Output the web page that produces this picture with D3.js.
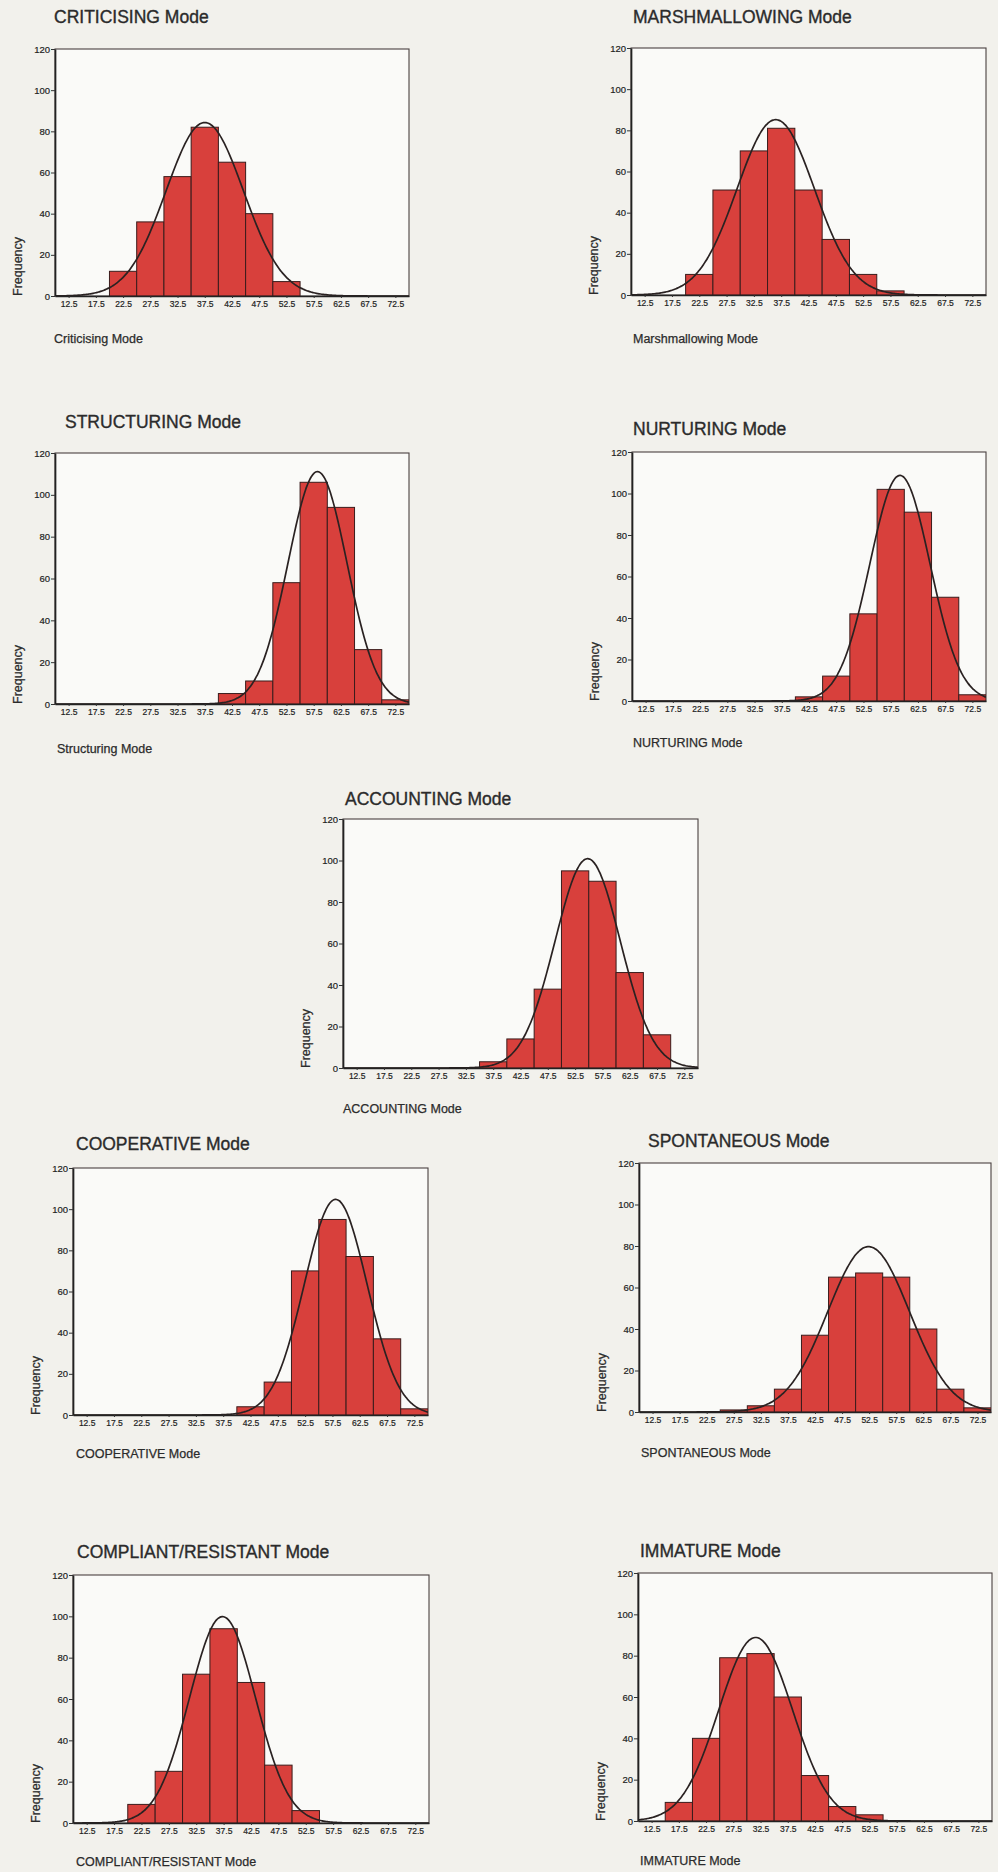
<!DOCTYPE html>
<html lang="en">
<head>
  <meta charset="UTF-8" />
  <title>Mode histograms</title>
  <script src="https://cdn.jsdelivr.net/npm/d3@7"></script>
  <style>
    body { margin: 0; background: #f2f1ec; }
    svg { display: block; font-family: "Liberation Sans", Arial, sans-serif; }
    .title { font-size: 17.5px; fill: #2b2b2b; stroke: #2b2b2b; stroke-width: 0.35px; }
    .axis-title { font-size: 12.5px; fill: #2b2b2b; stroke: #2b2b2b; stroke-width: 0.25px; }
    .tick text { fill: #1e1e1e; stroke: #1e1e1e; stroke-width: 0.2px; }
    .bar { fill: #d8403c; stroke: #3a1c1c; stroke-width: 1; }
    .curve { fill: none; stroke: #2a2222; stroke-width: 1.7; }
  </style>
</head>
<body>
<script>
  // bin midpoints (bin width 5)
  const binCenters = [12.5, 17.5, 22.5, 27.5, 32.5, 37.5, 42.5, 47.5, 52.5, 57.5, 62.5, 67.5, 72.5];
  const yTicks = [0, 20, 40, 60, 80, 100, 120];

  const titles = ["CRITICISING Mode", "MARSHMALLOWING Mode", "STRUCTURING Mode", "NURTURING Mode",
    "ACCOUNTING Mode", "COOPERATIVE Mode", "SPONTANEOUS Mode", "COMPLIANT/RESISTANT Mode", "IMMATURE Mode"];
  const axisTitles = ["Criticising Mode", "Marshmallowing Mode", "Structuring Mode", "NURTURING Mode",
    "ACCOUNTING Mode", "COOPERATIVE Mode", "SPONTANEOUS Mode", "COMPLIANT/RESISTANT Mode", "IMMATURE Mode"];

  // frequencies per bin
  const criticising    = [0, 0, 12, 36, 58, 82, 65, 40, 7, 0, 0, 0, 0];
  const marshmallowing = [0, 0, 10, 51, 70, 81, 51, 27, 10, 2, 0, 0, 0];
  const structuring    = [0, 0, 0, 0, 0, 0, 5, 11, 58, 106, 94, 26, 2];
  const nurturing      = [0, 0, 0, 0, 0, 0, 2, 12, 42, 102, 91, 50, 3];
  const accounting     = [0, 0, 0, 0, 0, 3, 14, 38, 95, 90, 46, 16, 0];
  const cooperative    = [0, 0, 0, 0, 0, 0, 4, 16, 70, 95, 77, 37, 3];
  const spontaneous    = [0, 0, 0, 1, 3, 11, 37, 65, 67, 65, 40, 11, 2];
  const compliant      = [0, 0, 9, 25, 72, 94, 68, 28, 6, 0, 0, 0, 0];
  const immature       = [0, 9, 40, 79, 81, 60, 22, 7, 3, 0, 0, 0, 0];

  // fitted normal curve parameters
  const means = [37.5, 36.5, 58.2, 59.2, 54.8, 58.1, 52.4, 37.3, 31.6];
  const sds   = [7.1, 7.07, 5.42, 5.54, 5.97, 5.75, 7.56, 6.03, 6.76];

  const series = [criticising, marshmallowing, structuring, nurturing, accounting,
    cooperative, spontaneous, compliant, immature];

  // panel layout: plot box, title position, axis title position
  const layout = [
    { x0: 55,  y0: 49,   x1: 409, y1: 296,  tx: 54,  ty: 23,   ax: 54,  ay: 343 },
    { x0: 631, y0: 48,   x1: 986, y1: 295,  tx: 633, ty: 23,   ax: 633, ay: 343 },
    { x0: 55,  y0: 453,  x1: 409, y1: 704,  tx: 65,  ty: 428,  ax: 57,  ay: 753 },
    { x0: 632, y0: 452,  x1: 986, y1: 701,  tx: 633, ty: 435,  ax: 633, ay: 747 },
    { x0: 343, y0: 819,  x1: 698, y1: 1068, tx: 345, ty: 805,  ax: 343, ay: 1113 },
    { x0: 73,  y0: 1168, x1: 428, y1: 1415, tx: 76,  ty: 1150, ax: 76,  ay: 1458 },
    { x0: 639, y0: 1163, x1: 991, y1: 1412, tx: 648, ty: 1147, ax: 641, ay: 1457 },
    { x0: 73,  y0: 1575, x1: 429, y1: 1823, tx: 77,  ty: 1558, ax: 76,  ay: 1866 },
    { x0: 638, y0: 1573, x1: 992, y1: 1821, tx: 640, ty: 1557, ax: 640, ay: 1865 }
  ];

  const svg = d3.select("body").append("svg").attr("width", 998).attr("height", 1872);

  series.forEach((counts, i) => {
    const L = layout[i];
    const g = svg.append("g");
    const x = d3.scaleLinear().domain([10, 75]).range([L.x0, L.x1]);
    const y = d3.scaleLinear().domain([0, 120]).range([L.y1, L.y0]);
    const n = d3.sum(counts);

    g.append("rect")
      .attr("x", L.x0).attr("y", L.y0)
      .attr("width", L.x1 - L.x0).attr("height", L.y1 - L.y0)
      .attr("fill", "#fafaf8").attr("stroke", "#4a4040").attr("stroke-width", 1.1);

    const clipId = "clip" + i;
    svg.append("clipPath").attr("id", clipId).append("rect")
      .attr("x", L.x0).attr("y", L.y0 - 2)
      .attr("width", L.x1 - L.x0).attr("height", L.y1 - L.y0 + 2);

    const bins = binCenters.map((c, j) => ({ c, v: counts[j] })).filter(d => d.v > 0);
    g.append("g").attr("clip-path", `url(#${clipId})`)
      .selectAll("rect").data(bins).enter().append("rect")
      .attr("class", "bar")
      .attr("x", d => x(d.c - 2.5))
      .attr("width", d => x(d.c + 2.5) - x(d.c - 2.5))
      .attr("y", d => y(d.v))
      .attr("height", d => y(0) - y(d.v));

    const pdf = v => n * 5 / (sds[i] * Math.sqrt(2 * Math.PI)) *
      Math.exp(-0.5 * Math.pow((v - means[i]) / sds[i], 2));
    const xs = d3.range(10, 75.01, 0.25);
    g.append("path").attr("clip-path", `url(#${clipId})`)
      .attr("class", "curve")
      .attr("d", d3.line().x(v => x(v)).y(v => y(pdf(v))).curve(d3.curveBasis)(xs));

    // axes
    const yAxis = d3.axisLeft(y).tickValues(yTicks).tickSize(4).tickSizeOuter(0).tickPadding(1);
    const ya = g.append("g").attr("transform", `translate(${L.x0},0)`).call(yAxis);
    ya.select(".domain").attr("stroke", "#222").attr("stroke-width", 1.7);
    ya.selectAll(".tick line").attr("stroke", "#333");
    ya.selectAll(".tick text").style("font-size", "9.5px");

    const xAxis = d3.axisBottom(x).tickValues(binCenters).tickFormat(d3.format(".1f"))
      .tickSize(2).tickSizeOuter(0).tickPadding(3);
    const xa = g.append("g").attr("transform", `translate(0,${L.y1})`).call(xAxis);
    xa.select(".domain").attr("stroke", "#222").attr("stroke-width", 1.7);
    xa.selectAll(".tick line").attr("stroke", "#333");
    xa.selectAll(".tick text").style("font-size", "8.5px");

    g.append("text").attr("class", "title").attr("x", L.tx).attr("y", L.ty).text(titles[i]);
    g.append("text").attr("class", "axis-title").attr("x", L.ax).attr("y", L.ay).text(axisTitles[i]);
    g.append("text").attr("class", "axis-title")
      .attr("transform", `translate(${L.x0 - 33},${L.y1}) rotate(-90)`)
      .text("Frequency");
  });
</script>
</body>
</html>
